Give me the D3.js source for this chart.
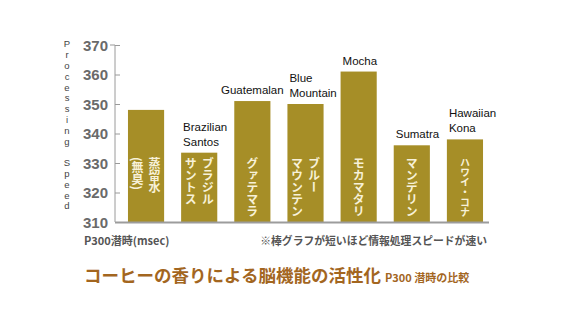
<!DOCTYPE html>
<html>
<head>
<meta charset="utf-8">
<script src="https://cdn.jsdelivr.net/npm/d3@7"></script>
<style>
  body { margin: 0; background: #fff; }
  svg { display: block; }
  .tick-label { font-family: "Liberation Sans", Arial, sans-serif; font-weight: bold; font-size: 15px; fill: #6a6a6a; }
  .cat { font-family: "Liberation Sans", Arial, sans-serif; font-size: 11.5px; fill: #111; }
  .jp { font-family: "Noto Sans CJK JP", sans-serif; }
</style>
</head>
<body>
<svg id="chart" width="580" height="334"></svg>
<script>
(function(){
    // categories (English labels above the bars) and values (P300 latency, msec)
    const categories = ["Distilled", "Brazilian Santos", "Guatemalan", "Blue Mountain", "Mocha", "Sumatra", "Hawaiian Kona"];
    const labelLines = [[], ["Brazilian", "Santos"], ["Guatemalan"], ["Blue", "Mountain"], ["Mocha"], ["Sumatra"], ["Hawaiian", "Kona"]];
    const values = [348, 333.5, 351, 350, 361, 336, 338];
    // vertical Japanese text in the bars, first entry = right column
    const barText = [["蒸留水", "(無臭)"], ["ブラジル", "サントス"], ["グァテマラ"], ["ブルー", "マウンテン"], ["モカマタリ"], ["マンデリン"], ["ハワイ・コナ"]];
    const yTicks = [310, 320, 330, 340, 350, 360, 370];
    const yTitle = "Processing Speed";

    const svg = d3.select("#chart");
    const barColor = "#a68e27";

    const x = d3.scaleBand().domain(categories).range([120, 491]).paddingInner(0.32).paddingOuter(0.15);
    const y = d3.scaleLinear().domain([310, 370]).range([222, 45]);

    // y axis
    const yAxis = d3.axisLeft(y).tickValues(yTicks).tickSize(-5).tickPadding(7).tickFormat(d3.format("d"));
    const ax = svg.append("g").attr("transform", "translate(115,0)").call(yAxis);
    ax.select(".domain").attr("stroke", "#9a9a9a").attr("d", `M-5,${y(370)}H0V${y(310)}`);
    ax.selectAll(".tick line").attr("stroke", "#9a9a9a");
    ax.selectAll(".tick text").attr("class", "tick-label").attr("dy", "0.36em");

    // stacked y title letters
    const letters = yTitle.split("");
    const ly = d3.scalePoint().domain(d3.range(letters.length)).range([44, 206]);
    svg.append("g").selectAll("text").data(letters).enter().append("text")
        .attr("x", 67).attr("y", (_, i) => ly(i)).attr("dy", "0.35em")
        .attr("text-anchor", "middle")
        .style("font-family", "'Liberation Sans', Arial, sans-serif").style("font-size", "9.5px").style("fill", "#444")
        .text(d => d);

    // bars
    svg.append("g").selectAll("rect").data(values).enter().append("rect")
        .attr("x", (_, i) => x(categories[i]))
        .attr("y", d => y(d))
        .attr("width", x.bandwidth())
        .attr("height", d => y(310) - y(d))
        .attr("fill", barColor);

    // baseline
    svg.append("line").attr("x1", 115).attr("x2", 489).attr("y1", y(310) + 0.5).attr("y2", y(310) + 0.5)
        .attr("stroke", "#9c9c9c").attr("stroke-width", 2);

    // vertical japanese text inside bars
    barText.forEach((cols, i) => {
        const cx = x(categories[i]) + x.bandwidth() / 2;
        cols.forEach((t, j) => {
            const off = cols.length === 1 ? 0 : (j === 0 ? 8.5 : -8.5);
            const fs = Math.min(12, 60 / t.length);
            svg.append("text").attr("class", "jp")
                .attr("x", cx + off).attr("y", 157)
                .style("writing-mode", "vertical-rl")
                .style("font-size", fs + "px").style("font-weight", "bold").style("fill", "#f7f1d8")
                .text(t);
        });
    });

    // english labels above bars
    labelLines.forEach((lines, i) => {
        if (!lines.length) return;
        const x0 = x(categories[i]);
        const top = y(values[i]);
        const g = svg.append("text").attr("class", "cat");
        const wide = lines.length === 1 && lines[0].length > 8;
        lines.forEach((ln, j) => {
            g.append("tspan")
                .attr("x", wide ? x0 + x.bandwidth() / 2 : x0 + 2)
                .attr("text-anchor", wide ? "middle" : "start")
                .attr("y", top - 7 - (lines.length - 1 - j) * 15)
                .text(ln);
        });
    });

    // footer texts
    svg.append("text").attr("class", "jp").attr("x", 84).attr("y", 245)
        .style("font-size", "11px").style("font-weight", "bold").style("fill", "#555")
        .text("P300潜時(msec)");
    svg.append("text").attr("class", "jp").attr("x", 487).attr("y", 245).attr("text-anchor", "end")
        .style("font-size", "10.8px").style("font-weight", "bold").style("fill", "#555")
        .text("※棒グラフが短いほど情報処理スピードが速い");

    const title = svg.append("text").attr("class", "jp").attr("x", 84).attr("y", 282)
        .style("fill", "#a3661f").style("font-weight", "bold");
    title.append("tspan").style("font-size", "17.5px").text("コーヒーの香りによる脳機能の活性化");
    title.append("tspan").attr("dx", 4).style("font-size", "11px").text("P300 潜時の比較");
})();
</script>
</body>
</html>
